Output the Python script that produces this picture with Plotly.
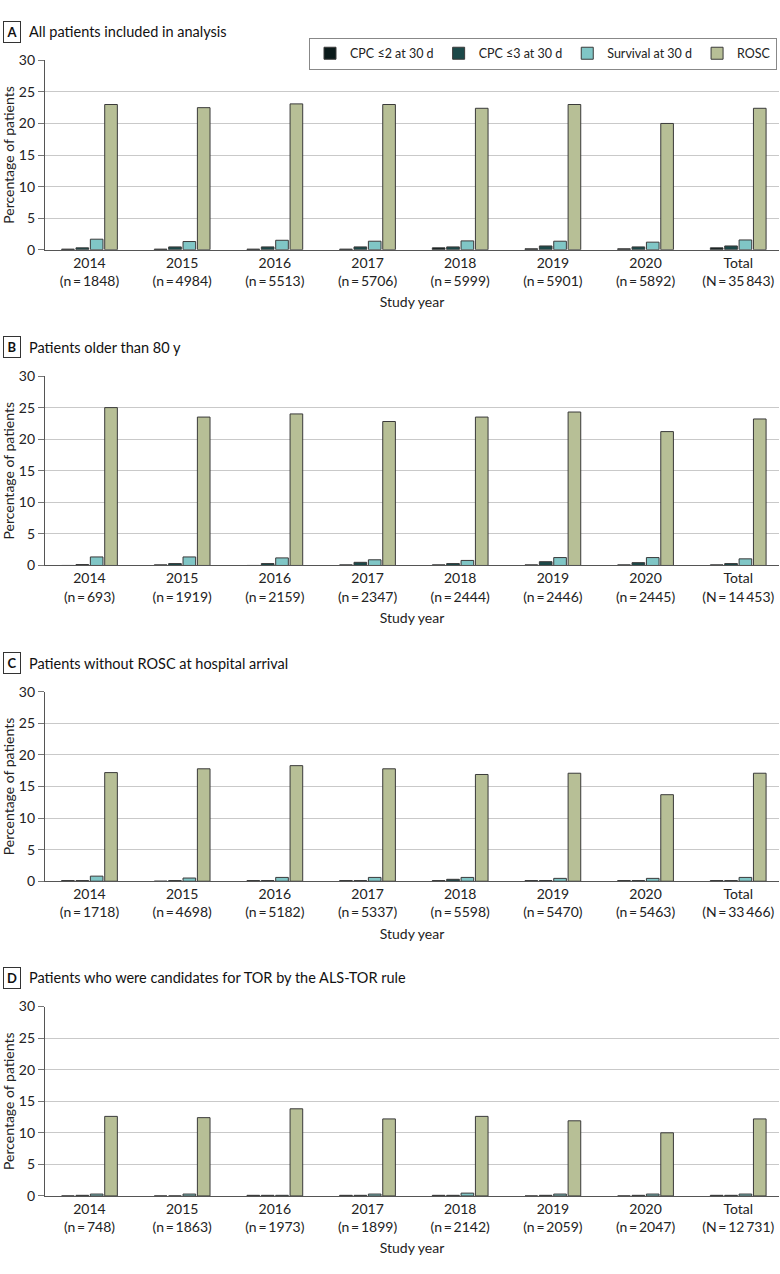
import plotly.graph_objects as go

W, H = 780, 1274
FONT = "Lato"

years = ["2014", "2015", "2016", "2017", "2018", "2019", "2020", "Total"]
series_names = ["CPC ≤2 at 30 d", "CPC ≤3 at 30 d", "Survival at 30 d", "ROSC"]
series_colors = ["#0b1a1a", "#1c4949", "#80c6c6", "#b7bf96"]

panel_letters = ["A", "B", "C", "D"]
panel_titles = [
    "All patients included in analysis",
    "Patients older than 80 y",
    "Patients without ROSC at hospital arrival",
    "Patients who were candidates for TOR by the ALS-TOR rule",
]

n_a = ["n\u2009=\u20091848", "n\u2009=\u20094984", "n\u2009=\u20095513", "n\u2009=\u20095706",
       "n\u2009=\u20095999", "n\u2009=\u20095901", "n\u2009=\u20095892", "N\u2009=\u200935\u2009843"]
n_b = ["n\u2009=\u2009693", "n\u2009=\u20091919", "n\u2009=\u20092159", "n\u2009=\u20092347",
       "n\u2009=\u20092444", "n\u2009=\u20092446", "n\u2009=\u20092445", "N\u2009=\u200914\u2009453"]
n_c = ["n\u2009=\u20091718", "n\u2009=\u20094698", "n\u2009=\u20095182", "n\u2009=\u20095337",
       "n\u2009=\u20095598", "n\u2009=\u20095470", "n\u2009=\u20095463", "N\u2009=\u200933\u2009466"]
n_d = ["n\u2009=\u2009748", "n\u2009=\u20091863", "n\u2009=\u20091973", "n\u2009=\u20091899",
       "n\u2009=\u20092142", "n\u2009=\u20092059", "n\u2009=\u20092047", "N\u2009=\u200912\u2009731"]

# Panel A
a_cpc2 = [0.1, 0.1, 0.1, 0.1, 0.3, 0.15, 0.15, 0.3]
a_cpc3 = [0.3, 0.45, 0.45, 0.45, 0.45, 0.6, 0.45, 0.6]
a_surv = [1.67, 1.3, 1.5, 1.35, 1.4, 1.35, 1.2, 1.55]
a_rosc = [23.0, 22.5, 23.1, 23.0, 22.4, 23.0, 20.0, 22.4]
# Panel B
b_cpc2 = [0.0, 0.1, 0.0, 0.1, 0.1, 0.1, 0.1, 0.1]
b_cpc3 = [0.15, 0.3, 0.3, 0.5, 0.3, 0.6, 0.45, 0.3]
b_surv = [1.35, 1.35, 1.2, 0.9, 0.8, 1.25, 1.25, 1.05]
b_rosc = [25.0, 23.5, 24.0, 22.8, 23.5, 24.3, 21.2, 23.2]
# Panel C
c_cpc2 = [0.1, 0.0, 0.1, 0.1, 0.1, 0.1, 0.1, 0.1]
c_cpc3 = [0.1, 0.1, 0.1, 0.1, 0.3, 0.1, 0.1, 0.1]
c_surv = [0.8, 0.5, 0.6, 0.6, 0.6, 0.45, 0.45, 0.6]
c_rosc = [17.2, 17.8, 18.3, 17.8, 16.9, 17.1, 13.7, 17.1]
# Panel D
d_cpc2 = [0.0, 0.0, 0.1, 0.1, 0.1, 0.0, 0.0, 0.1]
d_cpc3 = [0.1, 0.0, 0.1, 0.1, 0.1, 0.1, 0.1, 0.1]
d_surv = [0.3, 0.3, 0.1, 0.3, 0.45, 0.3, 0.3, 0.3]
d_rosc = [12.6, 12.4, 13.8, 12.2, 12.6, 11.9, 10.0, 12.2]

panels = [
    (n_a, [a_cpc2, a_cpc3, a_surv, a_rosc]),
    (n_b, [b_cpc2, b_cpc3, b_surv, b_rosc]),
    (n_c, [c_cpc2, c_cpc3, c_surv, c_rosc]),
    (n_d, [d_cpc2, d_cpc3, d_surv, d_rosc]),
]

# pixel geometry
top_px = [52, 372, 692, 1011]
bot_px = [244, 564, 884, 1203]
x_left, x_right = 45, 779

fig = go.Figure()
for p, (nlist, series) in enumerate(panels):
    ax = "" if p == 0 else str(p + 1)
    cats = [f"{y}<br>({n})" for y, n in zip(years, nlist)]
    for s, vals in enumerate(series):
        fig.add_trace(go.Bar(
            x=cats, y=vals, name=series_names[s],
            marker=dict(color=series_colors[s], line=dict(color="#3a3a3a", width=1)),
            xaxis="x" + ax, yaxis="y" + ax,
            offsetgroup=str(s), legendgroup=str(s), showlegend=(p == 0),
        ))
    dom_y = [1 - bot_px[p] / H, 1 - top_px[p] / H]
    fig.layout["xaxis" + ax] = dict(
        domain=[x_left / W, x_right / W], anchor="y" + ax,
        range=[-0.48, 7.44], showline=True, linecolor="#555", linewidth=1.2,
        ticks="", tickfont=dict(size=14, color="#222"),
        title=dict(text="Study year", font=dict(size=14, color="#222"), standoff=9),
        showgrid=False, fixedrange=True,
    )
    fig.layout["yaxis" + ax] = dict(
        domain=dom_y, anchor="x" + ax, range=[0, 30], dtick=5,
        showline=True, linecolor="#555", linewidth=1.2,
        ticks="outside", ticklen=6, tickcolor="#777", tickfont=dict(size=14, color="#222"),
        showgrid=True, gridcolor="#c9c9c9", gridwidth=1.2, zeroline=False,
        title=dict(text="Percentage of patients", font=dict(size=14, color="#222"), standoff=5),
        fixedrange=True,
    )
    ty = 1 - (top_px[p] - 29) / H
    fig.add_annotation(
        x=3 / W, y=ty, xref="paper", yref="paper", xanchor="left", yanchor="middle",
        text="<b>" + panel_letters[p] + "</b>", showarrow=False,
        font=dict(size=13, color="#111", family=FONT),
        bordercolor="#333", borderwidth=1, borderpad=2, bgcolor="white", width=12,
    )
    fig.add_annotation(
        x=27 / W, y=ty, xref="paper", yref="paper", xanchor="left", yanchor="middle",
        text=panel_titles[p], showarrow=False,
        font=dict(size=14.5, color="#111", family=FONT),
    )

fig.update_layout(
    width=W, height=H, margin=dict(l=0, r=0, t=0, b=0),
    paper_bgcolor="white", plot_bgcolor="white",
    font=dict(family=FONT, color="#222"),
    barmode="group", bargap=0.38, bargroupgap=0.12,
    legend=dict(
        orientation="h", x=777 / W, xanchor="right", y=1 - 29 / H, yanchor="top",
        bgcolor="white", bordercolor="#888", borderwidth=1,
        font=dict(size=12.5, color="#222"), traceorder="normal",
        itemwidth=30,
    ),
)

fig.write_html(
    "out.html",
    config={"displayModeBar": False},
    post_script="document.body.style.margin='0';document.body.style.overflow='hidden';",
)
